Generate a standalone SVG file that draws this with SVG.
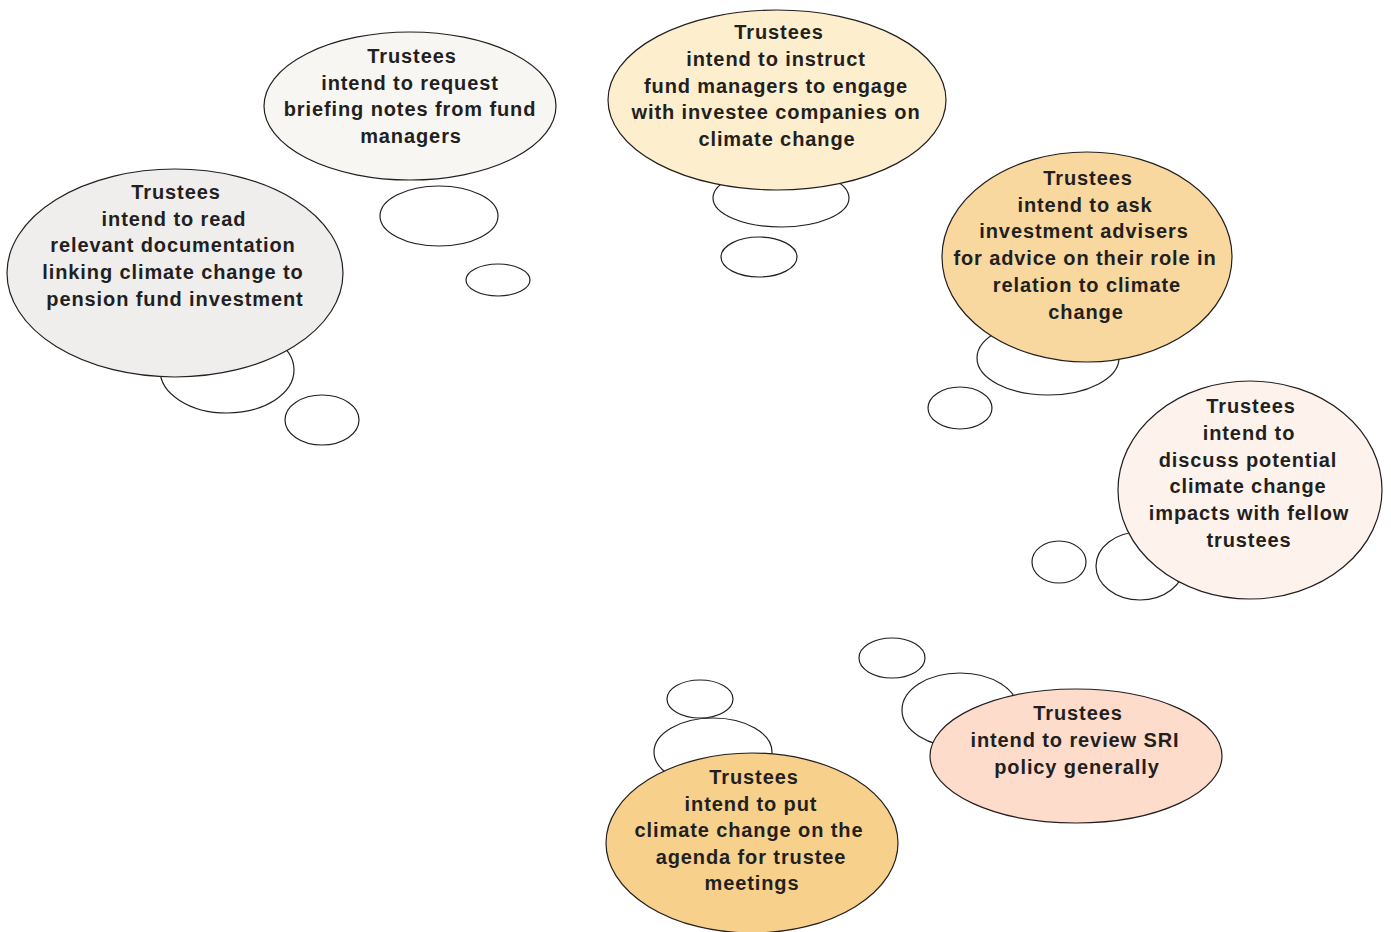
<svg xmlns="http://www.w3.org/2000/svg" width="1391" height="932" viewBox="0 0 1391 932">
<style>
.b{stroke:#231f20;stroke-width:1.2}
.t{fill:#fff}
text{font-family:"Liberation Sans",Arial,sans-serif;font-weight:bold;font-size:20px;fill:#231f20;text-anchor:middle;letter-spacing:0.9px}
</style>
<rect width="1391" height="932" fill="#fff"/>
<g id="connectors">
<ellipse class="b t" cx="227" cy="370" rx="67" ry="43"/>
<ellipse class="b t" cx="322" cy="420" rx="37" ry="25"/>
<ellipse class="b t" cx="439" cy="216" rx="59" ry="30"/>
<ellipse class="b t" cx="498" cy="280" rx="32" ry="16"/>
<ellipse class="b t" cx="781" cy="198" rx="68" ry="29"/>
<ellipse class="b t" cx="759" cy="257" rx="38" ry="20"/>
<ellipse class="b t" cx="1048" cy="358" rx="71" ry="37"/>
<ellipse class="b t" cx="960" cy="408" rx="32" ry="21"/>
<ellipse class="b t" cx="1140" cy="566" rx="44" ry="34"/>
<ellipse class="b t" cx="1059" cy="562" rx="27" ry="21"/>
<ellipse class="b t" cx="960" cy="710" rx="58" ry="37"/>
<ellipse class="b t" cx="892" cy="658" rx="33" ry="20"/>
<ellipse class="b t" cx="713" cy="752" rx="59" ry="34"/>
<ellipse class="b t" cx="700" cy="699" rx="33" ry="19"/>
</g>
<g id="n1">
<ellipse class="b" cx="175" cy="273" rx="168" ry="104" fill="#efeeec"/>
<text x="176" y="199">Trustees</text>
<text x="174" y="226">intend to read</text>
<text x="173" y="252">relevant documentation</text>
<text x="173" y="279">linking climate change to</text>
<text x="175" y="306">pension fund investment</text>
</g>
<g id="n2">
<ellipse class="b" cx="410" cy="106" rx="146" ry="74" fill="#f7f6f3"/>
<text x="412" y="63">Trustees</text>
<text x="410" y="90">intend to request</text>
<text x="410" y="116">briefing notes from fund</text>
<text x="411" y="143">managers</text>
</g>
<g id="n3">
<ellipse class="b" cx="777" cy="100" rx="169" ry="90" fill="#fdeece"/>
<text x="779" y="39">Trustees</text>
<text x="776" y="66">intend to instruct</text>
<text x="776" y="93">fund managers to engage</text>
<text x="776" y="119">with investee companies on</text>
<text x="777" y="146">climate change</text>
</g>
<g id="n4">
<ellipse class="b" cx="1087" cy="257" rx="145" ry="105" fill="#f8d89e"/>
<text x="1088" y="185">Trustees</text>
<text x="1085" y="212">intend to ask</text>
<text x="1084" y="238">investment advisers</text>
<text x="1085" y="265">for advice on their role in</text>
<text x="1087" y="292">relation to climate</text>
<text x="1086" y="319">change</text>
</g>
<g id="n5">
<ellipse class="b" cx="1250" cy="490" rx="132" ry="109" fill="#fdf3ec"/>
<text x="1251" y="413">Trustees</text>
<text x="1249" y="440">intend to</text>
<text x="1248" y="467">discuss potential</text>
<text x="1248" y="493">climate change</text>
<text x="1249" y="520">impacts with fellow</text>
<text x="1249" y="547">trustees</text>
</g>
<g id="n6">
<ellipse class="b" cx="1076" cy="756" rx="146" ry="67" fill="#fddccb"/>
<text x="1078" y="720">Trustees</text>
<text x="1075" y="747">intend to review SRI</text>
<text x="1077" y="774">policy generally</text>
</g>
<g id="n7">
<ellipse class="b" cx="752" cy="843" rx="146" ry="90" fill="#f7d18c"/>
<text x="754" y="784">Trustees</text>
<text x="751" y="811">intend to put</text>
<text x="749" y="837">climate change on the</text>
<text x="751" y="864">agenda for trustee</text>
<text x="752" y="890">meetings</text>
</g>
</svg>
